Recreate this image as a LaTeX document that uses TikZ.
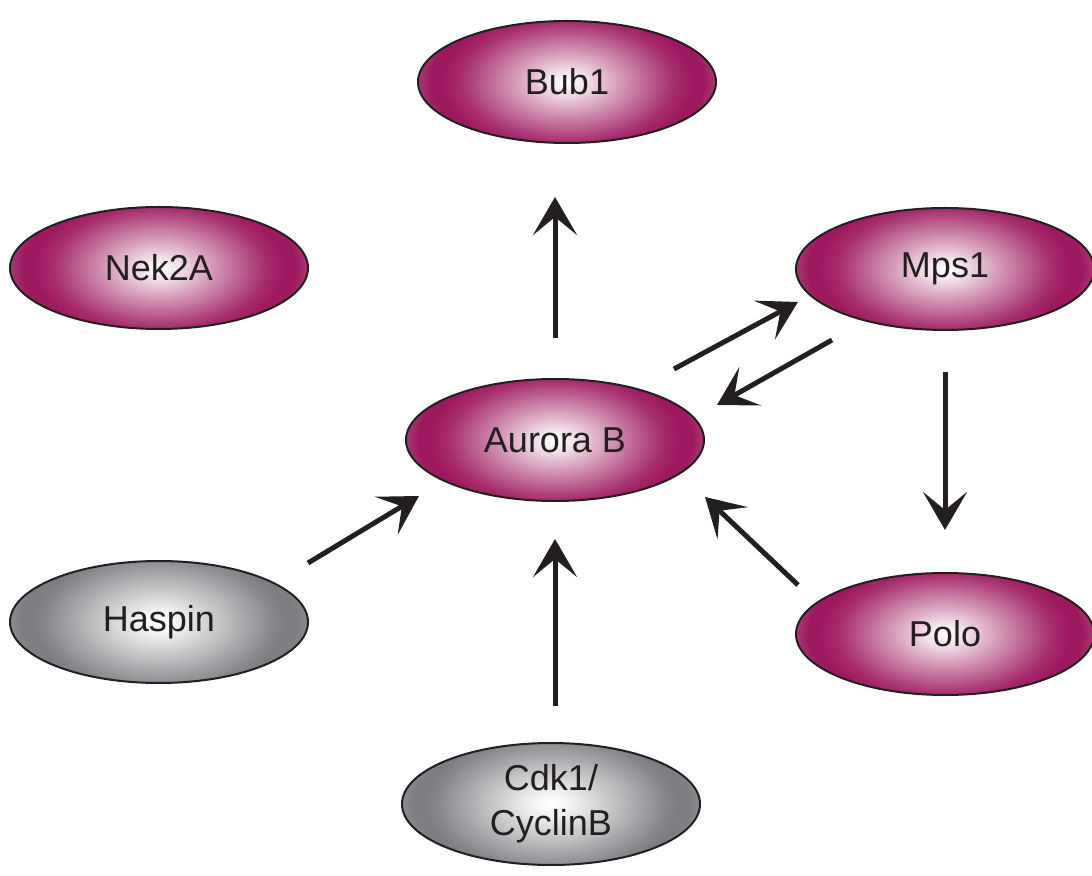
\documentclass[tikz,border=0pt]{standalone}
\usepackage{fontspec}
\setmainfont{Liberation Sans}
\usetikzlibrary{shapes.geometric,arrows.meta}
\definecolor{mag}{RGB}{158,26,96}
\definecolor{magedge}{RGB}{168,56,114}
\definecolor{gry}{RGB}{125,126,130}
\definecolor{gryedge}{RGB}{138,139,143}
\definecolor{ink}{RGB}{35,31,32}
\pgfdeclareradialshading{magshade}{\pgfpoint{0bp}{0bp}}{color(0bp)=(white); color(3bp)=(white!88!mag); color(10bp)=(mag!50!white); color(18bp)=(mag!92!white); color(21bp)=(mag); color(23bp)=(mag); color(25bp)=(magedge); color(50bp)=(magedge)}
\pgfdeclareradialshading{gryshade}{\pgfpoint{0bp}{0bp}}{color(0bp)=(white); color(3bp)=(white!92!gry); color(11bp)=(gry!50!white); color(19bp)=(gry!92!white); color(21bp)=(gry); color(23bp)=(gry); color(25bp)=(gryedge); color(50bp)=(gryedge)}
\tikzset{
  prot/.style={ellipse, draw=ink, line width=1pt, minimum width=149pt, minimum height=61pt,
    inner sep=0pt, font=\fontsize{18}{22.5}\selectfont, text=ink, align=center},
  magprot/.style={prot, path picture={\shade[shading=magshade]
    ([shift={(-74.5pt,-42pt)}]path picture bounding box.center) rectangle
    ([shift={(74.5pt,42pt)}]path picture bounding box.center);}},
  gryprot/.style={prot, path picture={\shade[shading=gryshade]
    ([shift={(-74.5pt,-42pt)}]path picture bounding box.center) rectangle
    ([shift={(74.5pt,42pt)}]path picture bounding box.center);}},
  arr/.style={draw=ink, line width=2.5pt, -{Stealth[length=19pt,width=22pt,inset=9pt]}}
}
\begin{document}
\begin{tikzpicture}[x=0.5pt,y=-0.5pt]
\useasboundingbox (0,0) rectangle (1092,876);
\node[magprot] (bub) at (567,82) {Bub1};
\node[magprot] (nek) at (159,268) {Nek2A};
\node[magprot] (mps) at (945,269) {Mps1};
\node[magprot] (aur) at (555,440) {Aurora B};
\node[gryprot] (has) at (159,622) {Haspin};
\node[magprot] (polo) at (945,634) {Polo};
\node[gryprot] (cdk) at (551,804) {Cdk1/\\CyclinB};
% arrow ends
\coordinate (ab0) at (555,338);
\coordinate (ab1) at (555,197);
\coordinate (am0) at (674,369);
\coordinate (am1) at (798,302);
\coordinate (ma0) at (832,340);
\coordinate (ma1) at (717,405);
\coordinate (mp0) at (945,372);
\coordinate (mp1) at (945,530);
\coordinate (ha0) at (308,563);
\coordinate (ha1) at (419,496);
\coordinate (ca0) at (555,706);
\coordinate (ca1) at (555,539);
\coordinate (pa0) at (798,585);
\coordinate (pa1) at (705,497);
\draw[arr] (ab0) -- (ab1);
\draw[arr] (am0) -- (am1);
\draw[arr] (ma0) -- (ma1);
\draw[arr] (mp0) -- (mp1);
\draw[arr] (ha0) -- (ha1);
\draw[arr] (ca0) -- (ca1);
\draw[arr] (pa0) -- (pa1);
\end{tikzpicture}
\end{document}
